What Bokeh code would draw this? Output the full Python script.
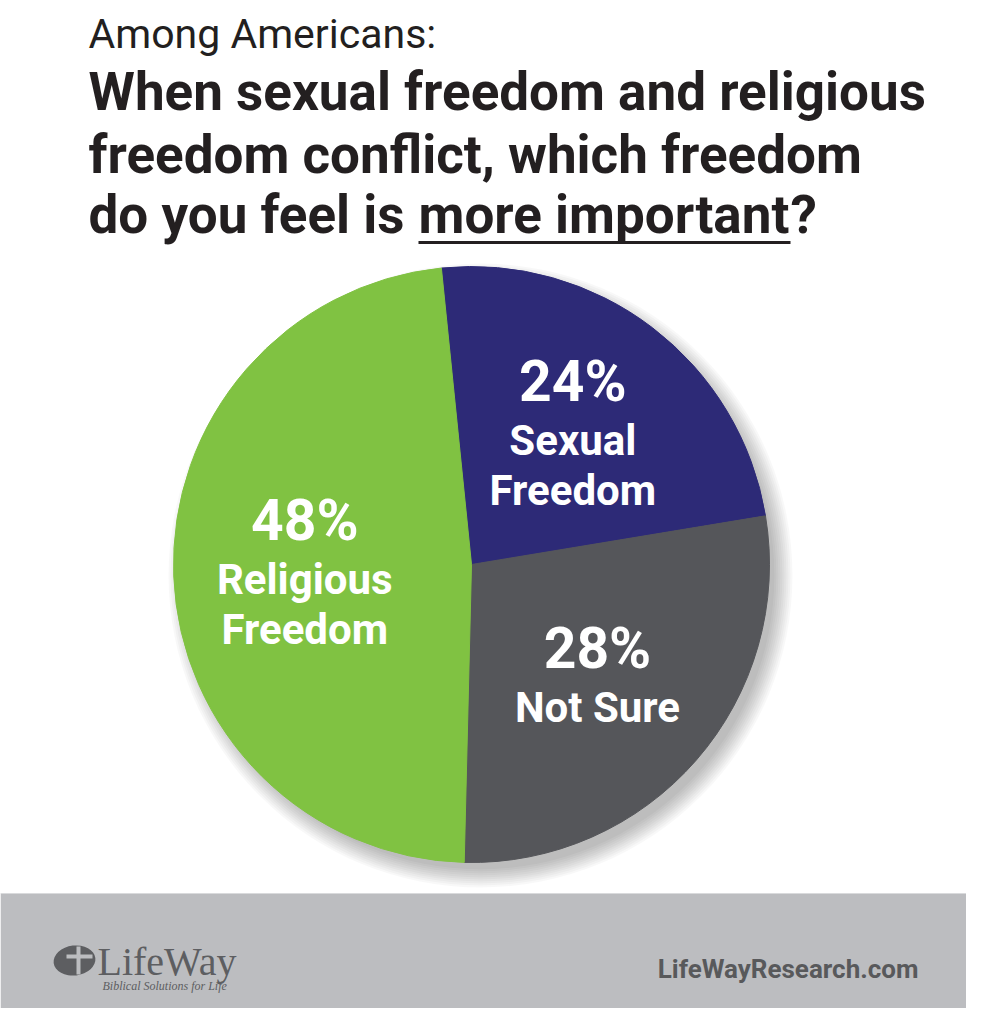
import numpy as np
from bokeh.plotting import figure
from bokeh.models import Range1d, ColumnDataSource
from bokeh.core.properties import value
from bokeh.embed import file_html
from bokeh.resources import INLINE

# ---- data ----
categories = ["Sexual Freedom", "Not Sure", "Religious Freedom"]
label_lines = ["Sexual\nFreedom", "Not Sure", "Religious\nFreedom"]
shares = [24, 28, 48]
colors = ["#2d2a77", "#55565a", "#80c242"]

subtitle = "Among Americans:"
title_lines = ["When sexual freedom and religious", "freedom conflict, which freedom"]
title_last = ["do you feel is", "more important", "?"]
footer_url = "LifeWayResearch.com"

# ---- figure ----
W, H = 966, 1008
p = figure(width=W, height=H, x_range=Range1d(0, W), y_range=Range1d(0, H), title=None,
           output_backend="svg", toolbar_location=None, min_border=0,
           x_axis_location=None, y_axis_location=None, outline_line_color=None)
p.grid.visible = False
p.background_fill_color = "white"
p.border_fill_color = "white"

TXT = "#231f20"
BOLD = value("Roboto")


def ty(Y, size):
    """page-row of a text baseline -> data y (with baseline correction)"""
    return H - Y + 0.34 * size


# ---- titles ----
p.text(x=[88], y=[ty(47, 41)], text=[subtitle], text_font=value("Roboto"), text_font_size="41px",
       text_color=TXT, text_baseline="alphabetic")
p.text(x=[88, 88], y=[ty(110, 53), ty(173, 53)], text=title_lines, text_font=BOLD,
       text_font_style="bold", text_font_size="53px", text_color=TXT, text_baseline="alphabetic")
p.text(x=[88, 418, 790], y=[ty(233, 53)] * 3, text=title_last, text_font=BOLD,
       text_font_style="bold", text_font_size="53px", text_color=TXT, text_baseline="alphabetic")
p.segment(x0=[418], y0=[H - 242], x1=[790], y1=[H - 242], line_color=TXT, line_width=3)

# ---- pie ----
cx, cy, R = 471, H - 564, 298
# soft drop shadow
sh_r = [R - 4 + 2 * i for i in range(10)]
p.circle(x=[cx + 9] * 10, y=[cy - 11] * 10, radius=sh_r, fill_color="black",
         fill_alpha=0.028, line_color=None)

vals = np.array(shares, dtype=float)
frac = vals / vals.sum()
cum = np.concatenate([[0.0], np.cumsum(frac)])
start0 = np.deg2rad(95.8)
a_from = start0 - 2 * np.pi * cum[:-1]
a_to = start0 - 2 * np.pi * cum[1:]
src = ColumnDataSource(dict(s=a_to, e=a_from, color=colors, cat=categories))
p.wedge(x=cx, y=cy, radius=R, start_angle="s", end_angle="e", fill_color="color",
        line_color="color", line_width=1, source=src)

# ---- slice labels ----
PCT_SZ, NM_SZ = 57, 42
mids = (a_from + a_to) / 2
rl = 0.56 * R
pct_x, pct_y, pct_t = [], [], []
nm_x, nm_y, nm_t = [], [], []
for i, v in enumerate(shares):
    ax = cx + rl * np.cos(mids[i])
    ay = cy + rl * np.sin(mids[i])
    names = label_lines[i].split("\n")
    offs = [0] + [54 + 50 * k for k in range(len(names))]
    top, bot = -42, offs[-1]
    c = (top + bot) / 2
    pct_x.append(ax); pct_y.append(ay + c + 0.34 * PCT_SZ); pct_t.append(f"{v}%")
    for k, nm in enumerate(names):
        nm_x.append(ax); nm_y.append(ay - (offs[k + 1] - c) + 0.34 * NM_SZ); nm_t.append(nm)
p.text(x=pct_x, y=pct_y, text=pct_t, text_font=BOLD, text_font_style="bold",
       text_font_size=f"{PCT_SZ}px", text_color="white", text_align="center",
       text_baseline="alphabetic")
p.text(x=nm_x, y=nm_y, text=nm_t, text_font=BOLD, text_font_style="bold",
       text_font_size=f"{NM_SZ}px", text_color="white", text_align="center",
       text_baseline="alphabetic")

# ---- footer ----
BAND = "#bcbdc0"
LOGO = "#5d5e61"
p.quad(left=[0], right=[W], bottom=[0], top=[H - 893], fill_color=BAND, line_color=None)
p.segment(x0=[0], y0=[H - 893], x1=[W], y1=[H - 893], line_color="#d9dadc", line_width=1)
p.ellipse(x=[74], y=[H - 960], width=[42], height=[30], angle=[0.12], fill_color=LOGO,
          line_color=None)
p.quad(left=[76], right=[80], bottom=[H - 974], top=[H - 946], fill_color=BAND, line_color=None)
p.quad(left=[66], right=[92], bottom=[H - 958], top=[H - 954], fill_color=BAND, line_color=None)
p.text(x=[97], y=[ty(975, 40)], text=["LifeWay"], text_font=value("Liberation Serif"),
       text_font_size="40px", text_color=LOGO, text_baseline="alphabetic")
p.text(x=[102], y=[ty(990, 12)], text=["Biblical Solutions for Life"],
       text_font=value("Liberation Serif"), text_font_style="italic", text_font_size="12px",
       text_color=LOGO, text_baseline="alphabetic")
p.text(x=[918], y=[ty(977, 26)], text=[footer_url], text_font=BOLD, text_font_style="bold",
       text_font_size="26px", text_color="#58595b", text_align="right", text_baseline="alphabetic")

open("out.html", "w").write(file_html(p, INLINE))
